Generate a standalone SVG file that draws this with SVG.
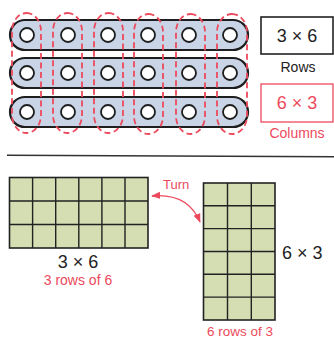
<svg xmlns="http://www.w3.org/2000/svg" width="334" height="341" viewBox="0 0 334 341">
<defs>
<style>
.pill{fill:#c9d5e7;stroke:#1e1e1e;stroke-width:2.2}
.hole{fill:#fff;stroke:#1e1e1e;stroke-width:1.8}
.col{fill:none;stroke:#ec4a5c;stroke-width:1.8;stroke-dasharray:6 3.5}
.grid{fill:#d5ddb3;stroke:#222;stroke-width:1.6}
.gl{stroke:#222;stroke-width:1.4}
.t{font-family:"Liberation Sans",Arial,sans-serif;fill:#222}
.r{font-family:"Liberation Sans",Arial,sans-serif;fill:#ec4a5c}
</style>
<marker id="ah" viewBox="0 0 10 10" refX="9" refY="5" markerWidth="7" markerHeight="7" orient="auto-start-reverse"><path d="M0,1 L10,5 L0,9 z" fill="#ec4a5c"/></marker>
</defs>
<rect width="334" height="341" fill="#fff"/>
<g id="rows">
<rect class="pill" x="10" y="20" width="238" height="30" rx="15"/>
<rect class="pill" x="10" y="58" width="238" height="30" rx="15"/>
<rect class="pill" x="10" y="97" width="238" height="30" rx="15"/>
</g>
<g id="holes">
<g id="r1"><circle class="hole" cx="27" cy="35" r="7"/><circle class="hole" cx="68" cy="35" r="7"/><circle class="hole" cx="108" cy="35" r="7"/><circle class="hole" cx="148" cy="35" r="7"/><circle class="hole" cx="189" cy="35" r="7"/><circle class="hole" cx="230" cy="35" r="7"/></g>
<g id="r2"><circle class="hole" cx="27" cy="73" r="7"/><circle class="hole" cx="68" cy="73" r="7"/><circle class="hole" cx="108" cy="73" r="7"/><circle class="hole" cx="148" cy="73" r="7"/><circle class="hole" cx="189" cy="73" r="7"/><circle class="hole" cx="230" cy="73" r="7"/></g>
<g id="r3"><circle class="hole" cx="27" cy="112" r="7"/><circle class="hole" cx="68" cy="112" r="7"/><circle class="hole" cx="108" cy="112" r="7"/><circle class="hole" cx="148" cy="112" r="7"/><circle class="hole" cx="189" cy="112" r="7"/><circle class="hole" cx="230" cy="112" r="7"/></g>
</g>
<g id="columns">
<rect class="col" x="12" y="13" width="29" height="120" rx="14.5" ry="18"/>
<rect class="col" x="53" y="13" width="29" height="120" rx="14.5" ry="18"/>
<rect class="col" x="94" y="13" width="29" height="120" rx="14.5" ry="18"/>
<rect class="col" x="134" y="14" width="29" height="120" rx="14.5" ry="18"/>
<rect class="col" x="176" y="14" width="29" height="120" rx="14.5" ry="18"/>
<rect class="col" x="217" y="14" width="30" height="120" rx="15" ry="18"/>
</g>
<g id="box-rows">
<rect x="261" y="17" width="72" height="37" fill="#fff" stroke="#222" stroke-width="1.6"/>
<text class="t" x="297" y="42" font-size="18" text-anchor="middle">3 × 6</text>
<text class="t" x="298" y="72" font-size="14" text-anchor="middle">Rows</text>
</g>
<g id="box-cols">
<rect x="261" y="84" width="72" height="38" fill="#fff" stroke="#ec4a5c" stroke-width="1.3"/>
<text class="r" x="297" y="109" font-size="18" text-anchor="middle">6 × 3</text>
<text class="r" x="297" y="138" font-size="14" text-anchor="middle">Columns</text>
</g>
<line x1="7" y1="155.3" x2="334" y2="156.7" stroke="#333" stroke-width="1.6"/>
<g id="grid-3x6">
<rect class="grid" x="9.5" y="177.5" width="138.5" height="70.5"/>
<path class="gl" d="M32.6,177.5V248M55.7,177.5V248M78.8,177.5V248M101.9,177.5V248M125,177.5V248M9.5,201H148M9.5,224.5H148"/>
<text class="t" x="78" y="268" font-size="18" text-anchor="middle">3 × 6</text>
<text class="r" x="78" y="285" font-size="14" text-anchor="middle">3 rows of 6</text>
</g>
<g id="grid-6x3">
<rect class="grid" x="203.5" y="183" width="71.5" height="137"/>
<path class="gl" d="M227.5,183V320M251.3,183V320M203.5,205.8H275M203.5,228.6H275M203.5,251.5H275M203.5,274.3H275M203.5,297.1H275"/>
<text class="t" x="282" y="259" font-size="18">6 × 3</text>
<text class="r" x="240" y="336" font-size="13.5" text-anchor="middle">6 rows of 3</text>
</g>
<g id="connectors">
<path d="M152,196 Q188,193 200,222" fill="none" stroke="#ec4a5c" stroke-width="1.3" marker-start="url(#ah)" marker-end="url(#ah)"/>
<text class="r" x="163" y="189" font-size="13">Turn</text>
</g>
</svg>
